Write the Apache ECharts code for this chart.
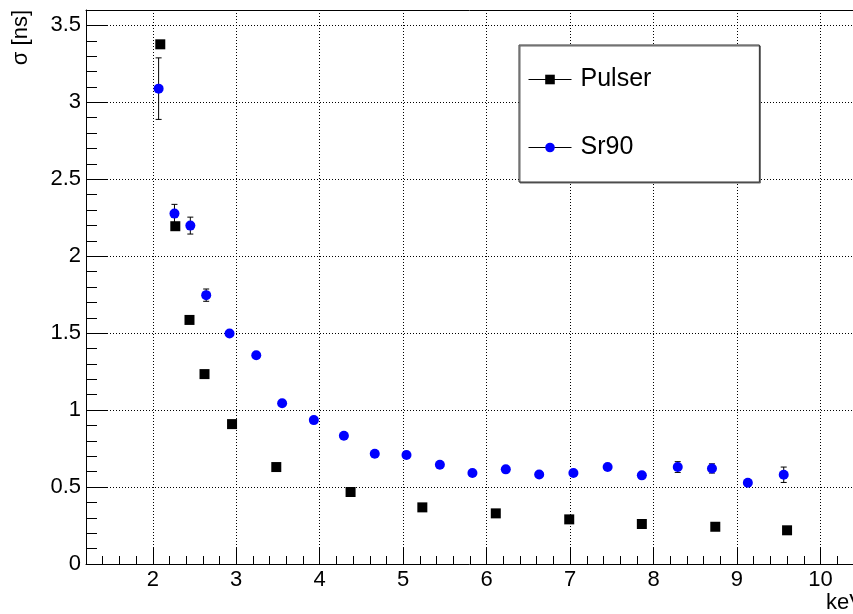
<!DOCTYPE html>
<html>
<head>
<meta charset="utf-8">
<script src="https://cdn.jsdelivr.net/npm/echarts@6/dist/echarts.min.js"></script>
<style>
html,body{margin:0;padding:0;background:#fff;}
#chart{width:853px;height:614px;}
</style>
</head>
<body>
<div id="chart"></div>
<script>
// Pulser
var pulserX = [2.09, 2.27, 2.44, 2.62, 2.95, 3.48, 4.37, 5.23, 6.11, 6.99, 7.86, 8.74, 9.60];
var pulserY = [3.377, 2.195, 1.586, 1.234, 0.909, 0.63, 0.468, 0.368, 0.329, 0.290, 0.260, 0.242, 0.219];

// Sr90
var sr90X = [2.07, 2.26, 2.45, 2.64, 2.92, 3.24, 3.55, 3.93, 4.29, 4.66, 5.04, 5.44, 5.83, 6.23, 6.63, 7.04, 7.45, 7.86, 8.29, 8.70, 9.13, 9.56];
var sr90Y = [3.089, 2.277, 2.199, 1.747, 1.498, 1.357, 1.045, 0.935, 0.833, 0.716, 0.708, 0.645, 0.591, 0.615, 0.582, 0.591, 0.630, 0.576, 0.630, 0.621, 0.528, 0.580];
var sr90Err = [0.20, 0.06, 0.055, 0.04, 0.012, 0.01, 0.01, 0.01, 0.01, 0.01, 0.01, 0.01, 0.01, 0.015, 0.01, 0.01, 0.015, 0.01, 0.035, 0.03, 0.02, 0.05];

var FONT = "'Liberation Sans', Arial, sans-serif";
var X_MIN = 1.2, X_MAX = 10.39;

var pulserData = [];
for (var i = 0; i < pulserX.length; i++) {
	pulserData.push([pulserX[i], pulserY[i]]);
}
var sr90Data = [];
var errData = [];
for (var j = 0; j < sr90X.length; j++) {
	sr90Data.push([sr90X[j], sr90Y[j]]);
	errData.push([sr90X[j], sr90Y[j], sr90Err[j]]);
}

// error bars with small caps
function renderErr(params, api) {
	var x = api.value(0), y = api.value(1), e = api.value(2);
	var lo = api.coord([x, y - e]);
	var hi = api.coord([x, y + e]);
	var w = 3;
	var st = {stroke: '#000', lineWidth: 1};
	return {
		type: 'group',
		children: [
			{type: 'line', shape: {x1: lo[0], y1: lo[1], x2: hi[0], y2: hi[1]}, style: st},
			{type: 'line', shape: {x1: lo[0] - w, y1: lo[1], x2: lo[0] + w, y2: lo[1]}, style: st},
			{type: 'line', shape: {x1: hi[0] - w, y1: hi[1], x2: hi[0] + w, y2: hi[1]}, style: st}
		]
	};
}

var myChart = echarts.init(document.getElementById('chart'));

var option = {
	animation: false,
	backgroundColor: '#fff',
	grid: {
		left: 86, top: 10, right: 0, bottom: 50,
		show: false
	},
	legend: {
		data: ['Pulser', 'Sr90'],
		orient: 'vertical',
		left: 519, top: 45,
		padding: [22, 108, 22, 9],
		itemGap: 43,
		itemWidth: 43,
		itemHeight: 12,
		backgroundColor: '#fff',
		borderColor: '#333',
		borderWidth: 1,
		shadowColor: '#666',
		shadowOffsetX: 1,
		shadowOffsetY: 1,
		shadowBlur: 0,
		lineStyle: {color: '#000', width: 1, opacity: 1},
		textStyle: {fontFamily: FONT, fontSize: 25, color: '#000', padding: [0, 0, 0, 4]}
	},
	xAxis: [
		{
			type: 'value', min: X_MIN, max: X_MAX, splitNumber: 9,
			axisLine: {onZero: false, lineStyle: {color: '#000', width: 1}},
			axisTick: {inside: true, length: 17, lineStyle: {color: '#000'}},
			axisLabel: {fontFamily: FONT, fontSize: 22, color: '#000', margin: 5, showMinLabel: false, showMaxLabel: false},
			splitLine: {show: true, showMaxLine: false, lineStyle: {color: '#000', width: 1, type: [1, 2]}}
		},
		{
			type: 'value', min: X_MIN, max: X_MAX, interval: 0.2, position: 'bottom',
			axisLine: {show: false},
			axisTick: {inside: true, length: 8, lineStyle: {color: '#000'}},
			axisLabel: {show: false},
			splitLine: {show: false}
		},
		{
			// top frame line
			type: 'value', min: X_MIN, max: X_MAX, position: 'top',
			axisLine: {show: true, onZero: false, lineStyle: {color: '#000', width: 1}},
			axisTick: {show: false},
			axisLabel: {show: false},
			splitLine: {show: false}
		}
	],
	yAxis: [
		{
			type: 'value', min: 0, max: 3.6, interval: 0.5,
			axisLine: {show: true, onZero: false, lineStyle: {color: '#000', width: 1}},
			axisTick: {show: true, inside: true, length: 21, lineStyle: {color: '#000'}},
			axisLabel: {fontFamily: FONT, fontSize: 22, color: '#000', margin: 5, showMaxLabel: false},
			splitLine: {show: true, lineStyle: {color: '#000', width: 1, type: [1, 2]}}
		},
		{
			type: 'value', min: 0, max: 3.6, interval: 0.1, position: 'left',
			axisLine: {show: false},
			axisTick: {show: true, inside: true, length: 11, lineStyle: {color: '#000'}},
			axisLabel: {show: false},
			splitLine: {show: false}
		}
	],
	graphic: [
		{
			type: 'text', x: 21, y: 10, rotation: Math.PI / 2,
			style: {text: 'σ [ns]', fontFamily: FONT, fontSize: 22, fill: '#000', align: 'right', verticalAlign: 'middle'}
		},
		{
			type: 'text', x: 826, y: 603,
			style: {text: 'keV', fontFamily: FONT, fontSize: 22, fill: '#000', align: 'left', verticalAlign: 'middle'}
		}
	],
	series: [
		{
			name: 'Sr90 err',
			type: 'custom',
			renderItem: renderErr,
			encode: {x: 0, y: 1},
			data: errData,
			z: 1
		},
		{
			name: 'Pulser',
			type: 'line',
			data: pulserData,
			symbol: 'rect',
			symbolSize: 10,
			showSymbol: true,
			itemStyle: {color: '#000'},
			lineStyle: {width: 0, opacity: 0},
			z: 3
		},
		{
			name: 'Sr90',
			type: 'line',
			data: sr90Data,
			symbol: 'circle',
			symbolSize: 10,
			showSymbol: true,
			itemStyle: {color: '#0000ff'},
			lineStyle: {width: 0, opacity: 0},
			z: 3
		}
	]
};

myChart.setOption(option);
</script>
</body>
</html>
